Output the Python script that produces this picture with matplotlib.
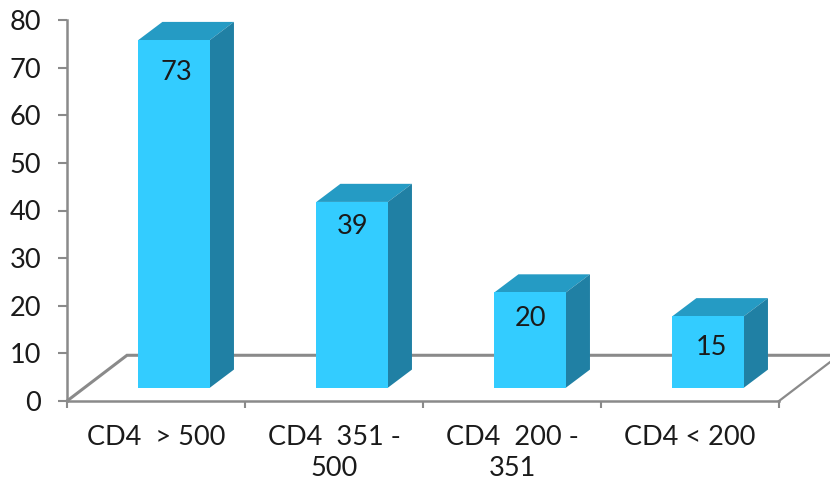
import matplotlib
matplotlib.use('Agg')
import matplotlib.pyplot as plt
import numpy as np

categories = ['CD4  > 500', 'CD4  351 -\n500', 'CD4  200 -\n351', 'CD4 < 200']
values = [73, 39, 20, 15]
y_ticks = [0, 10, 20, 30, 40, 50, 60, 70, 80]

# box look, in data units
bar_width = 0.402
bar_shift = 0.102
base = 2.8
depth_x = 0.135
depth_y = 3.8
floor_x = 0.337
floor_y = 9.6
label_drop = [32, 25, 26, 31]
label_nudge = [2, 0, 0, 3]

front_color = '#33CCFF'
top_color = '#259BC4'
side_color = '#2080A4'
axis_color = '#8A8A8A'
text_color = '#1A1A1A'

plt.rcParams['font.family'] = ['Lato', 'DejaVu Sans']

fig = plt.figure(figsize=(8.3, 4.84), dpi=100)
ax = fig.add_axes([67 / 830, 83 / 484, 712 / 830, 381 / 484])
ax.set_xlim(0, 4)
ax.set_ylim(0, 80)

# back edge and sides of the floor
ax.plot([0, floor_x, 4.4], [0, floor_y, floor_y], color=axis_color, lw=2.2,
        clip_on=False, zorder=1, solid_joinstyle='miter')
ax.plot([4, 4.29], [0, 0.29 / floor_x * floor_y], color=axis_color, lw=1.6,
        clip_on=False, zorder=1)

centers = np.arange(len(values)) + 0.5 + bar_shift
ax.bar(centers, values, bottom=base, width=bar_width, color=front_color,
       linewidth=0, zorder=3)

for cx, v, drop, nudge in zip(centers, values, label_drop, label_nudge):
    left = cx - bar_width / 2
    right = cx + bar_width / 2
    top = base + v
    # top face
    ax.fill([left, right, right + depth_x, left + depth_x],
            [top, top, top + depth_y, top + depth_y],
            color=top_color, lw=0, zorder=2, clip_on=False)
    # side face
    ax.fill([right, right + depth_x, right + depth_x, right],
            [base, base + depth_y, top + depth_y, top],
            color=side_color, lw=0, zorder=2, clip_on=False)
    ax.annotate(str(v), (cx, top), xytext=(nudge * 0.72, -drop * 0.72),
                textcoords='offset points', ha='center', va='center',
                fontsize=19.5, color=text_color, zorder=4)

for name in ['top', 'right']:
    ax.spines[name].set_visible(False)
for name in ['left', 'bottom']:
    ax.spines[name].set_color(axis_color)
    ax.spines[name].set_linewidth(1.8)
    ax.spines[name].set_zorder(1)

ax.set_yticks(y_ticks)
ax.tick_params(axis='y', length=6.5, width=1.5, color=axis_color, pad=12,
               labelsize=19.5, labelcolor=text_color)

ax.set_xticks(range(5))
ax.set_xticklabels([])
ax.tick_params(axis='x', length=5, width=1.5, color=axis_color)

# category labels sit under the ticks, centred on each slot
for i, name in enumerate(categories):
    ax.annotate(name, (i + 0.5, 0), xytext=(0, -17), textcoords='offset points',
                ha='center', va='top', fontsize=19.5, color=text_color,
                linespacing=1.3, annotation_clip=False)

fig.savefig('out.png', dpi=100)
